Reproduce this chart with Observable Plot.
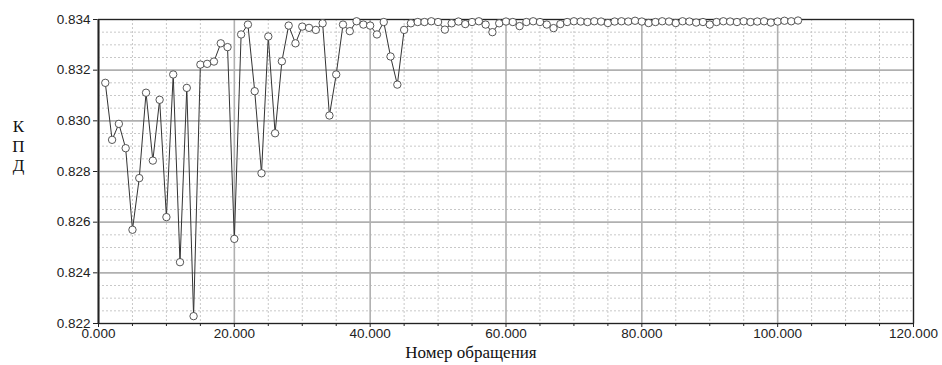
<!DOCTYPE html>
<html>
<head>
<meta charset="utf-8">
<script src="https://cdn.jsdelivr.net/npm/d3@7"></script>
<script src="https://cdn.jsdelivr.net/npm/@observablehq/plot@0.6"></script>
<style>
  html, body { margin: 0; padding: 0; background: #fff; }
  svg { display: block; }
</style>
</head>
<body>
<div id="chart"></div>
<script>
// КПД по номеру обращения (1..103)
const kpd = [
  0.83150, 0.82925, 0.82988, 0.82892, 0.82570, 0.82774, 0.83111, 0.82843, 0.83083, 0.82620,
  0.83183, 0.82442, 0.83130, 0.82229, 0.83222, 0.83225, 0.83234, 0.83306, 0.83291, 0.82534,
  0.83341, 0.83380, 0.83117, 0.82793, 0.83333, 0.82951, 0.83235, 0.83376, 0.83306, 0.83372,
  0.83367, 0.83359, 0.83385, 0.83021, 0.83183, 0.83380, 0.83354, 0.83393, 0.83380, 0.83376,
  0.83341, 0.83390, 0.83254, 0.83143, 0.83359, 0.83385, 0.83390, 0.83390, 0.83393, 0.83390,
  0.83360, 0.83385, 0.83392, 0.83382, 0.83390, 0.83393, 0.83380, 0.83350, 0.83385, 0.83392,
  0.83390, 0.83374, 0.83390, 0.83393, 0.83390, 0.83380, 0.83366, 0.83382, 0.83390, 0.83393,
  0.83392, 0.83390, 0.83393, 0.83392, 0.83386, 0.83392, 0.83393, 0.83392, 0.83395, 0.83392,
  0.83386, 0.83390, 0.83393, 0.83392, 0.83386, 0.83393, 0.83392, 0.83388, 0.83390, 0.83380,
  0.83390, 0.83393, 0.83392, 0.83390, 0.83393, 0.83390, 0.83392, 0.83393, 0.83388, 0.83392,
  0.83395, 0.83393, 0.83396
];
const xMajor = [0, 20, 40, 60, 80, 100, 120];
const xMinor = [5, 10, 15, 25, 30, 35, 45, 50, 55, 65, 70, 75, 85, 90, 95, 105, 110, 115];
const yMajor = [0.822, 0.824, 0.826, 0.828, 0.830, 0.832, 0.834];
const yMinor = [0.8225, 0.8230, 0.8235, 0.8245, 0.8250, 0.8255, 0.8265, 0.8270, 0.8275,
                0.8285, 0.8290, 0.8295, 0.8305, 0.8310, 0.8315, 0.8325, 0.8330, 0.8335];
const xLabel = "Номер обращения";
const yLabel = "К\nП\nД";

const data = kpd.map((v, i) => ({n: i + 1, v}));
const fmt = d => d.toFixed(3);

const chart = Plot.plot({
  width: 942,
  height: 365,
  marginLeft: 98,
  marginRight: 29,
  marginTop: 19,
  marginBottom: 42,
  style: {fontFamily: "'Liberation Sans', Arial, sans-serif", fontSize: "13px", color: "#222", background: "#fff"},
  x: {domain: [0, 120], label: null},
  y: {domain: [0.822, 0.834], label: null},
  marks: [
    Plot.gridX(xMinor, {stroke: "#c8c8c8", strokeOpacity: 1, strokeDasharray: "2,2"}),
    Plot.gridY(yMinor, {stroke: "#c8c8c8", strokeOpacity: 1, strokeDasharray: "2,2"}),
    Plot.gridX(xMajor, {stroke: "#b0b0b0", strokeOpacity: 1, strokeWidth: 1.6}),
    Plot.gridY(yMajor, {stroke: "#b0b0b0", strokeOpacity: 1, strokeWidth: 1.6}),
    Plot.axisX(xMajor, {tickFormat: fmt, tickSize: 4, tickPadding: 1, fontSize: 13.5, letterSpacing: "0.7px", label: null}),
    Plot.axisX(xMinor, {tickFormat: () => "", tickSize: 3, label: null}),
    Plot.axisY(yMajor, {tickFormat: fmt, tickSize: 5, tickPadding: 3, fontSize: 13.5, letterSpacing: "0.7px", label: null}),
    Plot.ruleX([0], {stroke: "#777", strokeWidth: 2.5}),
    Plot.frame({stroke: "#222", strokeWidth: 1.2}),
    Plot.line(data, {x: "n", y: "v", stroke: "#333", strokeWidth: 1}),
    Plot.dot(data, {x: "n", y: "v", r: 3.7, stroke: "#444", strokeWidth: 0.9, fill: "white"}),
    Plot.text([xLabel], {frameAnchor: "bottom", dx: -35, dy: 34, text: d => d,
      fontFamily: "'Liberation Serif', 'Times New Roman', serif", fontSize: 17, letterSpacing: "0.4px", fill: "#111"}),
    Plot.text([yLabel], {frameAnchor: "left", dx: -80, dy: -26, text: d => d, lineHeight: 1.15,
      textAnchor: "middle", fontFamily: "'Liberation Serif', 'Times New Roman', serif", fontSize: 17, fill: "#111"})
  ]
});
document.getElementById("chart").appendChild(chart);
</script>
</body>
</html>
